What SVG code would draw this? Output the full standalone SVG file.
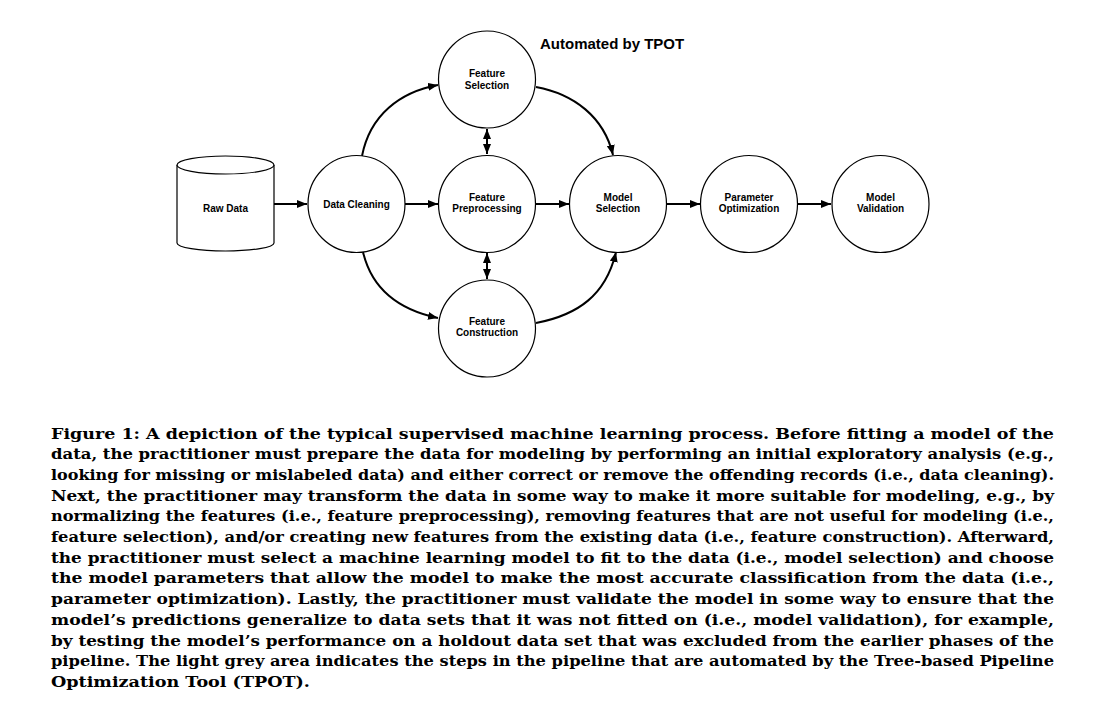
<svg xmlns="http://www.w3.org/2000/svg" width="1098" height="708" viewBox="0 0 1098 708">
<style>
.node{fill:#fff;stroke:#000;stroke-width:1.2}
.lbl{font-family:"Liberation Sans",Arial,sans-serif;font-weight:bold;font-size:10px;fill:#000;text-anchor:middle}
.title{font-family:"Liberation Sans",Arial,sans-serif;font-weight:bold;font-size:15px;fill:#000}
.conn{fill:none;stroke:#000;stroke-width:2}
.cap{font-family:"DejaVu Serif","Liberation Serif",serif;font-weight:bold;font-size:15px;fill:#000}
</style>
<defs>
<marker id="ah" markerUnits="userSpaceOnUse" markerWidth="10" markerHeight="8" refX="10" refY="4" orient="auto">
<path d="M0,0 L10,4 L0,8 z" fill="#000"/>
</marker>
<marker id="as" markerUnits="userSpaceOnUse" markerWidth="10" markerHeight="8" refX="0" refY="4" orient="auto">
<path d="M10,0 L0,4 L10,8 z" fill="#000"/>
</marker>
</defs>
<rect width="1098" height="708" fill="#fff"/>

<text class="title" x="540" y="49">Automated by TPOT</text>

<g id="connectors">
<line class="conn" x1="274" y1="204" x2="307" y2="204" marker-end="url(#ah)"/>
<line class="conn" x1="405" y1="204" x2="438" y2="204" marker-end="url(#ah)"/>
<line class="conn" x1="536" y1="204" x2="569" y2="204" marker-end="url(#ah)"/>
<line class="conn" x1="667" y1="204" x2="700" y2="204" marker-end="url(#ah)"/>
<line class="conn" x1="797" y1="204" x2="831" y2="204" marker-end="url(#ah)"/>
<path class="conn" d="M362,156 C370,115 400,92 438,85" marker-end="url(#ah)"/>
<path class="conn" d="M536,87 C574,94 604,117 613,155" marker-end="url(#ah)"/>
<path class="conn" d="M363,252 C372,290 400,310 438,318" marker-end="url(#ah)"/>
<path class="conn" d="M536,323 C578,315 606,295 616,252" marker-end="url(#ah)"/>
<line class="conn" x1="487" y1="129" x2="487" y2="154" marker-start="url(#as)" marker-end="url(#ah)"/>
<line class="conn" x1="487" y1="253" x2="487" y2="279" marker-start="url(#as)" marker-end="url(#ah)"/>
</g>

<g id="raw-data">
<path class="node" d="M177,165 L177,243 A48.5,8 0 0 0 274,243 L274,165"/>
<ellipse class="node" cx="225.5" cy="165" rx="48.5" ry="9"/>
<text class="lbl" x="225.5" y="212">Raw Data</text>
</g>
<g id="data-cleaning">
<circle class="node" cx="356.5" cy="204" r="48.5"/>
<text class="lbl" x="356.5" y="207.5">Data Cleaning</text>
</g>
<g id="feature-selection">
<circle class="node" cx="487" cy="79.5" r="48.5"/>
<text class="lbl" x="487" y="77">Feature</text>
<text class="lbl" x="487" y="89">Selection</text>
</g>
<g id="feature-preprocessing">
<circle class="node" cx="487" cy="204" r="48.5"/>
<text class="lbl" x="487" y="201">Feature</text>
<text class="lbl" x="487" y="212">Preprocessing</text>
</g>
<g id="feature-construction">
<circle class="node" cx="487" cy="328.5" r="48.5"/>
<text class="lbl" x="487" y="325">Feature</text>
<text class="lbl" x="487" y="336">Construction</text>
</g>
<g id="model-selection">
<circle class="node" cx="618" cy="204" r="48.5"/>
<text class="lbl" x="618" y="201">Model</text>
<text class="lbl" x="618" y="212">Selection</text>
</g>
<g id="parameter-optimization">
<circle class="node" cx="749" cy="204" r="48.5"/>
<text class="lbl" x="749" y="201">Parameter</text>
<text class="lbl" x="749" y="212">Optimization</text>
</g>
<g id="model-validation">
<circle class="node" cx="880.5" cy="204" r="48.5"/>
<text class="lbl" x="880.5" y="201">Model</text>
<text class="lbl" x="880.5" y="212">Validation</text>
</g>

<g id="caption" class="cap">
<text x="51" y="438.5" textLength="1003" lengthAdjust="spacingAndGlyphs">Figure 1:  A depiction of the typical supervised machine learning process.  Before fitting a model of the</text>
<text x="51" y="459.2" textLength="1003" lengthAdjust="spacingAndGlyphs">data, the practitioner must prepare the data for modeling by performing an initial exploratory analysis (e.g.,</text>
<text x="51" y="479.9" textLength="1003" lengthAdjust="spacingAndGlyphs">looking for missing or mislabeled data) and either correct or remove the offending records (i.e., data cleaning).</text>
<text x="51" y="500.6" textLength="1003" lengthAdjust="spacingAndGlyphs">Next, the practitioner may transform the data in some way to make it more suitable for modeling, e.g., by</text>
<text x="51" y="521.3" textLength="1003" lengthAdjust="spacingAndGlyphs">normalizing the features (i.e., feature preprocessing), removing features that are not useful for modeling (i.e.,</text>
<text x="51" y="542" textLength="1003" lengthAdjust="spacingAndGlyphs">feature selection), and/or creating new features from the existing data (i.e., feature construction).  Afterward,</text>
<text x="51" y="562.7" textLength="1003" lengthAdjust="spacingAndGlyphs">the practitioner must select a machine learning model to fit to the data (i.e., model selection) and choose</text>
<text x="51" y="583.4" textLength="1003" lengthAdjust="spacingAndGlyphs">the model parameters that allow the model to make the most accurate classification from the data (i.e.,</text>
<text x="51" y="604.1" textLength="1003" lengthAdjust="spacingAndGlyphs">parameter optimization).  Lastly, the practitioner must validate the model in some way to ensure that the</text>
<text x="51" y="624.8" textLength="1003" lengthAdjust="spacingAndGlyphs">model’s predictions generalize to data sets that it was not fitted on (i.e., model validation), for example,</text>
<text x="51" y="645.5" textLength="1003" lengthAdjust="spacingAndGlyphs">by testing the model’s performance on a holdout data set that was excluded from the earlier phases of the</text>
<text x="51" y="666.2" textLength="1003" lengthAdjust="spacingAndGlyphs">pipeline. The light grey area indicates the steps in the pipeline that are automated by the Tree-based Pipeline</text>
<text x="51" y="686.9" textLength="259" lengthAdjust="spacingAndGlyphs">Optimization Tool (TPOT).</text>
</g>
</svg>
